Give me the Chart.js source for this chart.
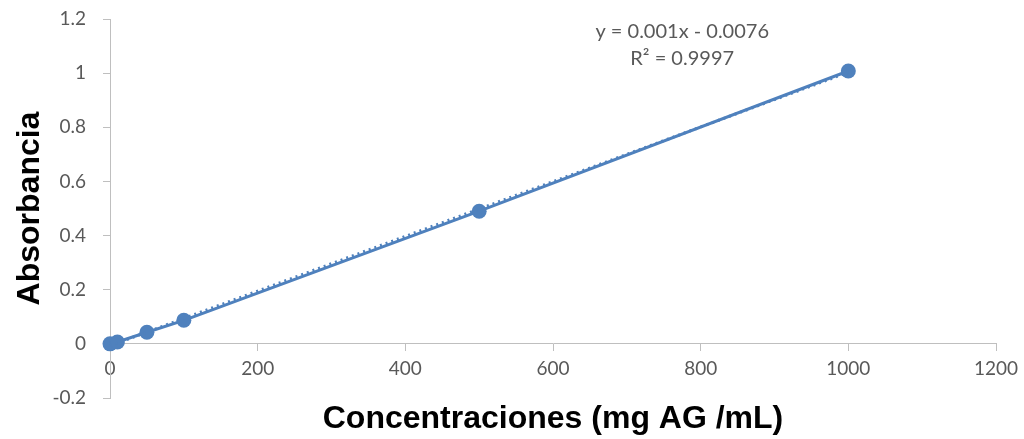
<!DOCTYPE html>
<html>
<head>
<meta charset="utf-8">
<script src="https://cdn.jsdelivr.net/npm/chart.js@4/dist/chart.umd.min.js"></script>
<style>
html,body{margin:0;padding:0;background:#fff;}
#wrap{width:1024px;height:439px;position:relative;}
</style>
</head>
<body>
<div id="wrap"><canvas id="c" width="1024" height="439"></canvas></div>
<script>
const concentrations = [0, 10, 50, 100, 500, 1000];
const absorbances = [0, 0.007, 0.043, 0.087, 0.49, 1.008];
const xTicks = [0, 200, 400, 600, 800, 1000, 1200];
const yTicks = [-0.2, 0, 0.2, 0.4, 0.6, 0.8, 1, 1.2];
const equationLines = ['y = 0.001x - 0.0076', 'R\u00B2 = 0.9997'];

const BLUE = '#4f81bd';
const AXIS = '#bfbfbf';
const TXT = '#595959';

// least-squares trendline from data
const n = concentrations.length;
const mx = concentrations.reduce((a,b)=>a+b,0)/n;
const my = absorbances.reduce((a,b)=>a+b,0)/n;
let sxy=0, sxx=0;
for(let i=0;i<n;i++){sxy+=(concentrations[i]-mx)*(absorbances[i]-my);sxx+=(concentrations[i]-mx)**2;}
const slope = sxy/sxx, intercept = my - slope*mx;
const trendX = [concentrations[0], concentrations[n-1]];
const trendPts = trendX.map(x=>({x:x, y:slope*x+intercept}));

const eqPlugin = {
  id:'eq',
  afterDraw(chart){
    const ctx = chart.ctx;
    const xs = chart.scales.x, ys = chart.scales.y;
    ctx.save();
    ctx.font = '20px Lato';
    ctx.fillStyle = TXT;
    ctx.textAlign = 'center';
    ctx.textBaseline = 'middle';
    const cx = xs.getPixelForValue(775);
    ctx.fillText(equationLines[0], cx, ys.getPixelForValue(1.153));
    ctx.fillText(equationLines[1], cx, ys.getPixelForValue(1.053));
    ctx.restore();
  }
};

new Chart(document.getElementById('c'), {
  type:'scatter',
  data:{
    datasets:[
      {
        label:'Lineal',
        data: trendPts,
        showLine:true,
        borderColor: BLUE,
        borderWidth:3,
        borderDash:[2,4],
        pointRadius:0,
        fill:false,
        clip:false
      },
      {
        label:'Absorbancia',
        data: concentrations.map((x,i)=>({x:x,y:absorbances[i]})),
        showLine:true,
        borderColor: BLUE,
        backgroundColor: BLUE,
        borderWidth:3,
        pointRadius:7.5,
        pointBorderWidth:0,
        pointBackgroundColor: BLUE,
        fill:false,
        clip:false
      }
    ]
  },
  options:{
    responsive:false,
    animation:false,
    devicePixelRatio:1,
    layout:{padding:{top:19,right:28,bottom:0,left:0}},
    plugins:{legend:{display:false},tooltip:{enabled:false}},
    scales:{
      x:{
        type:'linear',
        position:{y:0},
        min:0,max:1200,
        afterBuildTicks(s){s.ticks = xTicks.map(v=>({value:v}));},
        afterFit(s){s.paddingLeft=0;s.paddingRight=0;s.paddingTop=0;s.paddingBottom=0;},
        grid:{display:true,drawOnChartArea:false,drawTicks:true,tickLength:7,color:AXIS,lineWidth:1},
        border:{display:true,color:AXIS,width:1},
        ticks:{color:TXT,font:{family:'Lato',size:19},padding:7,maxRotation:0,callback:(v)=>String(v)}
      },
      x2:{
        type:'linear',
        position:'bottom',
        min:0,max:1200,
        afterFit(s){s.height=41;s.paddingLeft=0;s.paddingRight=0;},
        grid:{display:false},
        border:{display:false},
        ticks:{display:false},
        title:{display:true,text:'Concentraciones (mg AG /mL)',color:'#000',font:{family:'Liberation Sans',size:32,weight:'bold'},padding:{top:0,bottom:1}}
      },
      y:{
        type:'linear',
        position:'left',
        min:-0.2,max:1.2,
        afterBuildTicks(s){s.ticks = yTicks.map(v=>({value:v}));},
        afterFit(s){s.width=110;s.paddingTop=0;s.paddingBottom=0;},
        grid:{display:true,drawOnChartArea:false,drawTicks:true,tickLength:7,color:AXIS,lineWidth:1},
        border:{display:true,color:AXIS,width:1},
        ticks:{color:TXT,font:{family:'Lato',size:19},padding:17,callback:(v)=>String(Math.round(v*10)/10)},
        title:{display:true,text:'Absorbancia',color:'#000',font:{family:'Liberation Sans',size:32,weight:'bold'},padding:{top:11,bottom:0}}
      }
    }
  },
  plugins:[eqPlugin]
});
</script>
</body>
</html>
